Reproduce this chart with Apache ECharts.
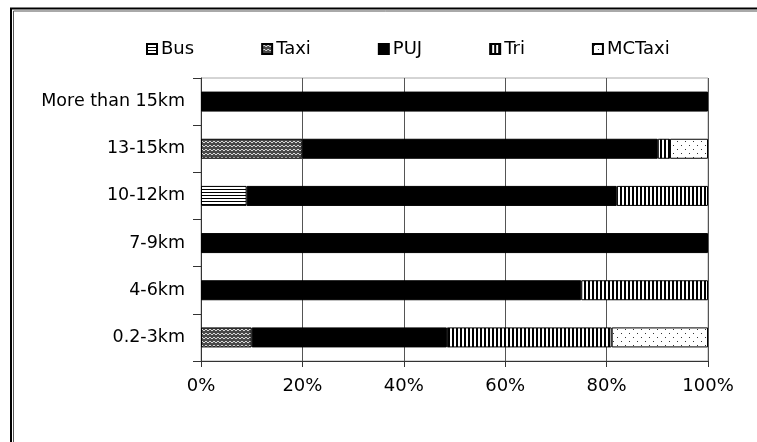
<!DOCTYPE html>
<html>
<head>
<meta charset="utf-8">
<script src="https://cdn.jsdelivr.net/npm/echarts@6/dist/echarts.min.js"></script>
<style>
html,body{margin:0;padding:0;background:#fff;}
#chart{width:757px;height:442px;}
</style>
</head>
<body>
<div id="chart"></div>
<script>
var categories = ['0.2-3km', '4-6km', '7-9km', '10-12km', '13-15km', 'More than 15km'];
var seriesNames = ['Bus', 'Taxi', 'PUJ', 'Tri', 'MCTaxi'];
var busValues = [0, 0, 0, 9, 0, 0];
var taxiValues = [10, 0, 0, 0, 20, 0];
var pujValues = [38.5, 75, 100, 73, 70.1, 100];
var triValues = [32.5, 25, 0, 18, 2.4, 0];
var mcTaxiValues = [19, 0, 0, 0, 7.5, 0];
var xTicks = [0, 20, 40, 60, 80, 100];

function makeCanvas(w, h, draw) {
  var c = document.createElement('canvas');
  c.width = w; c.height = h;
  var ctx = c.getContext('2d');
  draw(ctx, w, h);
  return { image: c, repeat: 'repeat' };
}
var busPattern = makeCanvas(4, 3, function (ctx, w, h) {
  ctx.fillStyle = '#fff'; ctx.fillRect(0, 0, w, h);
  ctx.fillStyle = '#000'; ctx.fillRect(0, 0, w, 1);
});
var taxiPattern = makeCanvas(8, 8, function (ctx, w, h) {
  ctx.fillStyle = '#4a4a4a'; ctx.fillRect(0, 0, w, h);
  ctx.strokeStyle = '#d8d8d8'; ctx.lineWidth = 1;
  ctx.beginPath();
  ctx.moveTo(0, 3); ctx.lineTo(2, 1); ctx.lineTo(4, 3); ctx.lineTo(6, 1); ctx.lineTo(8, 3);
  ctx.moveTo(0, 7); ctx.lineTo(2, 5); ctx.lineTo(4, 7); ctx.lineTo(6, 5); ctx.lineTo(8, 7);
  ctx.stroke();
});
var pujColor = '#000';
var triPattern = makeCanvas(4, 4, function (ctx, w, h) {
  ctx.fillStyle = '#fff'; ctx.fillRect(0, 0, w, h);
  ctx.fillStyle = '#000'; ctx.fillRect(0, 0, 2, h);
});
var mcTaxiPattern = makeCanvas(8, 8, function (ctx, w, h) {
  ctx.fillStyle = '#fff'; ctx.fillRect(0, 0, w, h);
  ctx.fillStyle = '#333'; ctx.fillRect(1, 1, 1, 1); ctx.fillRect(5, 5, 1, 1);
});

var allValues = [busValues, taxiValues, pujValues, triValues, mcTaxiValues];
var fills = [busPattern, taxiPattern, pujColor, triPattern, mcTaxiPattern];

var chart = echarts.init(document.getElementById('chart'), null, { renderer: 'canvas' });
var font = 'DejaVu Sans';
var series = seriesNames.map(function (name, i) {
  return {
    name: name,
    type: 'bar',
    stack: 'total',
    barWidth: 20,
    data: allValues[i].map(function (v) { return v === 0 ? '-' : v; }),
    itemStyle: { color: fills[i], borderColor: '#000', borderWidth: 1 }
  };
});

chart.setOption({
  animation: false,
  backgroundColor: '#fff',
  textStyle: { fontFamily: font, color: '#000' },
  legend: {
    data: seriesNames,
    left: 141,
    top: 35,
    itemGap: 67,
    itemWidth: 10,
    itemHeight: 10,
    icon: 'rect',
    textStyle: { fontFamily: font, fontSize: 18, color: '#000', padding: [0, 0, 0, -1] }
  },
  grid: { left: 201, right: 49, top: 78, bottom: 81, show: true, borderColor: '#aaa', borderWidth: 1 },
  xAxis: {
    type: 'value',
    min: 0, max: 100, interval: 20,
    axisLine: { show: true, lineStyle: { color: '#333', width: 1 } },
    axisTick: { show: true, length: 6, lineStyle: { color: '#333' } },
    axisLabel: { fontFamily: font, fontSize: 18, color: '#000', margin: 16,
      formatter: function (v) { return xTicks.indexOf(v) >= 0 ? v + '%' : ''; } },
    splitLine: { show: true, lineStyle: { color: '#555', width: 1 } }
  },
  yAxis: {
    type: 'category',
    data: categories,
    axisLine: { show: true, lineStyle: { color: '#333', width: 1 } },
    axisTick: { show: true, length: 8, lineStyle: { color: '#333' } },
    axisLabel: { fontFamily: font, fontSize: 17.5, color: '#000', margin: 16 }
  },
  series: series,
  graphic: [
    { type: 'polyline', shape: { points: [[11, 442], [11, 8.5], [757, 8.5]] }, style: { stroke: '#000', lineWidth: 2, fill: null }, silent: true },
    { type: 'polyline', shape: { points: [[13.5, 442], [13.5, 11], [757, 11]] }, style: { stroke: '#555', lineWidth: 1, fill: null }, silent: true }
  ]
});
</script>
</body>
</html>
